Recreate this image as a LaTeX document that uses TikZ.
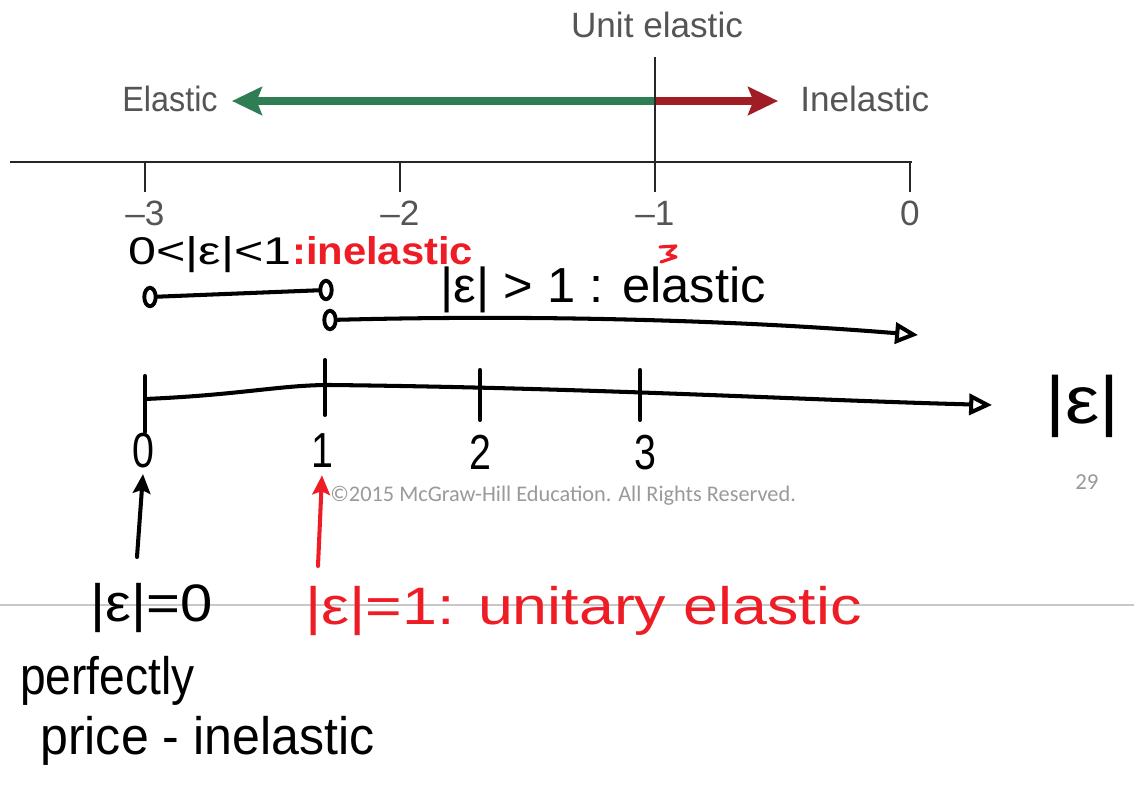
\documentclass[tikz,border=0pt]{standalone}
\usepackage{fontspec}
\setmainfont{Liberation Sans}
\newfontfamily\slidefont{Carlito}
\usetikzlibrary{arrows.meta,shapes.geometric}

\definecolor{elgreen}{HTML}{2E7D55}
\definecolor{inred}{HTML}{A11D25}
\definecolor{hwred}{HTML}{EE1C25}
\definecolor{rulegray}{HTML}{C8C8C8}
\definecolor{copygray}{HTML}{9A9A9A}
\definecolor{slidetext}{HTML}{555555}

% horizontally scaled text at a given size
\newcommand{\hwt}[3]{\scalebox{#1}[1]{\fontsize{#2}{#2}\selectfont #3}}

\begin{document}
\begin{tikzpicture}[x=0.02cm,y=-0.02cm,
  printed/.style={line width=0.9pt, draw=black!85},
  printlbl/.style={text=slidetext, font=\fontsize{20}{20}\selectfont, inner sep=0pt, anchor=base},
  pen/.style={line width=2.3pt, line cap=round, line join=round},
  hw/.style={inner sep=0pt, anchor=base west},
  ocirc/.style={ellipse, draw, line width=2.2pt, minimum width=6.5pt, minimum height=10.5pt, inner sep=0pt},
  openhead/.style={-{Triangle[open,length=13pt,width=12pt]}},
  penhead/.style={-{Stealth[length=11pt,width=10pt,inset=2pt]}}]
\useasboundingbox[fill=white] (0,0) rectangle (1134,786);

% slide rule line
\coordinate (rl) at (0,605);
\coordinate (rr) at (1134,605);
\draw[rulegray, line width=1.2pt] (rl) -- (rr);

% ---------- printed elasticity axis ----------
\coordinate (mid) at (655,101);
\coordinate (gEnd) at (232,101);
\coordinate (rEnd) at (778,101);
\draw[line width=4.5pt, elgreen, -{Stealth[length=17pt,width=16pt,inset=3pt]}] (mid) -- (gEnd);
\draw[line width=4.5pt, inred, -{Stealth[length=17pt,width=16pt,inset=3pt]}] (mid) -- (rEnd);

\coordinate (axL) at (10,162);
\coordinate (axR) at (912,162);
\draw[printed] (axL) -- (axR);
\foreach \x/\l [count=\i] in {145/\textendash3,400/\textendash2,655/\textendash1,910/0} {
  \coordinate (t\i) at (\x,162);
  \coordinate (tb\i) at (\x,192);
  \draw[printed] (t\i) -- (tb\i);
  \node[printlbl] (tl\i) at (\x,226) {\l};
}
\coordinate (uTop) at (655,57);
\draw[printed] (uTop) -- (t3);

\node[printlbl] (unit) at (657,38) {Unit elastic};
\node[printlbl, anchor=base east] (elas) at (218,112) {\scalebox{0.92}[1]{Elastic}};
\node[printlbl, anchor=base west] (inel) at (800,112) {Inelastic};

% ---------- handwritten ranges ----------
\node[hw] (lt) at (128,265) {\hwt{1.3}{22}{0<|ε|<1}};
\node[hw, text=hwred] (inelh) at (lt.base east) {\hwt{1.08}{22}{\bfseries :inelastic}};

\node[ocirc] (c1) at (150,297) {};
\node[ocirc] (c2) at (326,290) {};
\draw[pen] (c1) -- (c2);

\node[ocirc] (c3) at (330,320) {};
\coordinate (e1) at (918,335);
\draw[pen, openhead] (c3) .. controls (560,314) and (760,322) .. (e1);

\node[hw] (gt) at (440,303) {\hwt{1.03}{28}{|ε| > 1 : elastic}};
\draw[pen, hwred, line width=1.8pt] (660,247) -- (676,246) -- (667,254) -- (676,257) -- (661,262);

% ---------- handwritten |e| axis ----------
\coordinate (b0) at (145,399);
\coordinate (b1) at (992,405);
\draw[pen, openhead] (b0) .. controls (240,395) and (280,385) .. (330,385)
   .. controls (600,388) and (800,400) .. (b1);
\foreach \x/\ya/\yb [count=\i] in {145/376/432, 325/360/415, 480/370/420, 640/370/420} {
  \coordinate (ka\i) at (\x,\ya);
  \coordinate (kb\i) at (\x,\yb);
  \draw[pen] (ka\i) -- (kb\i);
}
\node[hw, anchor=base] (n0) at (143,468) {\hwt{0.8}{28}{0}};
\node[hw, anchor=base] (n1) at (322,468) {\hwt{0.8}{28}{1}};
\node[hw, anchor=base] (n2) at (480,470) {\hwt{0.8}{28}{2}};
\node[hw, anchor=base] (n3) at (645,470) {\hwt{0.8}{28}{3}};
\node[hw] (eps) at (1045,424) {\hwt{1.15}{38}{|ε|}};

% ---------- slide footer ----------
\node[anchor=base west, inner sep=0pt, text=copygray, font=\slidefont\fontsize{12.7}{12.7}\selectfont] (copy) at (330,502) {©2015 McGraw-Hill Education. All Rights Reserved.};
\node[anchor=base west, inner sep=0pt, text=copygray, font=\slidefont\fontsize{13}{13}\selectfont] (page) at (1075,490) {29};

% ---------- special cases ----------
\node[hw] (lab0) at (90,622) {\hwt{1.1}{30}{|ε|=0}};
\node[hw, text=hwred] (lab1) at (305,625) {\hwt{1.19}{30}{|ε|=1: unitary elastic}};
\node[hw] (perf) at (20,695) {\hwt{0.875}{30}{perfectly}};
\node[hw] (price) at (40,755) {\hwt{0.95}{30}{price - inelastic}};

\coordinate (p0) at (137,557);
\draw[pen, penhead] (p0) -- ([yshift=-3pt]n0.south);
\coordinate (p1) at (318,566);
\draw[pen, hwred, penhead] (p1) -- ([yshift=-4pt]n1.south);
\end{tikzpicture}
\end{document}
